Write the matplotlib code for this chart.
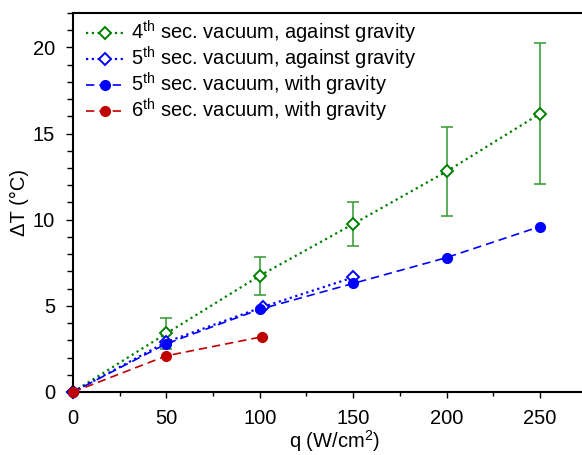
import numpy as np
import matplotlib.pyplot as plt
from matplotlib.ticker import MultipleLocator

plt.rcParams['font.family'] = ['Liberation Sans', 'DejaVu Sans']
plt.rcParams['mathtext.fontset'] = 'custom'
plt.rcParams['mathtext.rm'] = 'Liberation Sans'
plt.rcParams['mathtext.it'] = 'Liberation Sans:italic'

# 4th sec. vacuum, against gravity
q4_ag = [0, 50, 100, 150, 200, 250]
dt4_ag = [0, 3.4, 6.75, 9.75, 12.8, 16.15]
err4_ag = [0, 0.9, 1.1, 1.3, 2.6, 4.1]

# 5th sec. vacuum, against gravity
q5_ag = [0, 50, 102, 150]
dt5_ag = [0, 2.9, 4.95, 6.65]

# 5th sec. vacuum, with gravity
q5_wg = [0, 50, 100, 150, 200, 250]
dt5_wg = [0, 2.8, 4.8, 6.3, 7.8, 9.6]

# 6th sec. vacuum, with gravity
q6_wg = [0, 50, 101]
dt6_wg = [0, 2.1, 3.2]

FS = 14.5

def main():
    fig = plt.figure(figsize=(5.82, 4.55), dpi=100)
    ax = fig.add_axes([0.1254, 0.1385, 0.8986, 0.833])

    ax.errorbar(q4_ag, dt4_ag, yerr=err4_ag, fmt='none', ecolor='#3f9f3f',
                elinewidth=1.2, capsize=4, capthick=1.2)
    h1, = ax.plot(q4_ag, dt4_ag, color='#008000', linestyle=(0, (1, 1.6)), linewidth=1.6,
                  marker='D', markersize=6.5, markerfacecolor='white',
                  markeredgewidth=1.4, clip_on=False,
                  label='4$^{\\mathrm{th}}$ sec. vacuum, against gravity')
    h2, = ax.plot(q5_ag, dt5_ag, color='#0000ff', linestyle=(0, (1, 1.6)), linewidth=1.6,
                  marker='D', markersize=6.5, markerfacecolor='white', markeredgewidth=1.4,
                  clip_on=False, label='5$^{\\mathrm{th}}$ sec. vacuum, against gravity')
    h3, = ax.plot(q5_wg, dt5_wg, color='#0000ff', linestyle=(0, (5, 3)), linewidth=1.2,
                  marker='o', markersize=7, clip_on=False,
                  label='5$^{\\mathrm{th}}$ sec. vacuum, with gravity')
    h4, = ax.plot(q6_wg, dt6_wg, color='#c00000', linestyle=(0, (5, 3)), linewidth=1.2,
                  marker='o', markersize=7, clip_on=False, zorder=5,
                  label='6$^{\\mathrm{th}}$ sec. vacuum, with gravity')

    ax.set_xlim(0, 280)
    ax.set_ylim(0, 22)
    ax.xaxis.set_major_locator(MultipleLocator(50))
    ax.xaxis.set_minor_locator(MultipleLocator(25))
    ax.yaxis.set_major_locator(MultipleLocator(5))
    ax.yaxis.set_minor_locator(MultipleLocator(1))
    ax.tick_params(which='both', direction='out', top=False, right=False,
                   labelsize=FS, width=1, pad=8)
    ax.tick_params(axis='y', which='major', length=5)
    ax.tick_params(axis='y', which='minor', length=4)
    ax.tick_params(axis='x', which='major', length=4)
    ax.tick_params(axis='x', which='minor', length=3)
    for s in ax.spines.values():
        s.set_linewidth(1.5)

    ax.set_xlabel('q (W/cm$^{2}$)', fontsize=FS, labelpad=0.5)
    ax.set_ylabel('ΔT (°C)', fontsize=FS, labelpad=3)

    ax.legend(handles=[h1, h2, h3, h4], loc='upper left', frameon=False, fontsize=FS,
              handlelength=1.9, labelspacing=-0.06, handletextpad=0.3,
              borderaxespad=0.0, bbox_to_anchor=(0.01, 1.005))

    fig.savefig('out.png', dpi=100)

main()
